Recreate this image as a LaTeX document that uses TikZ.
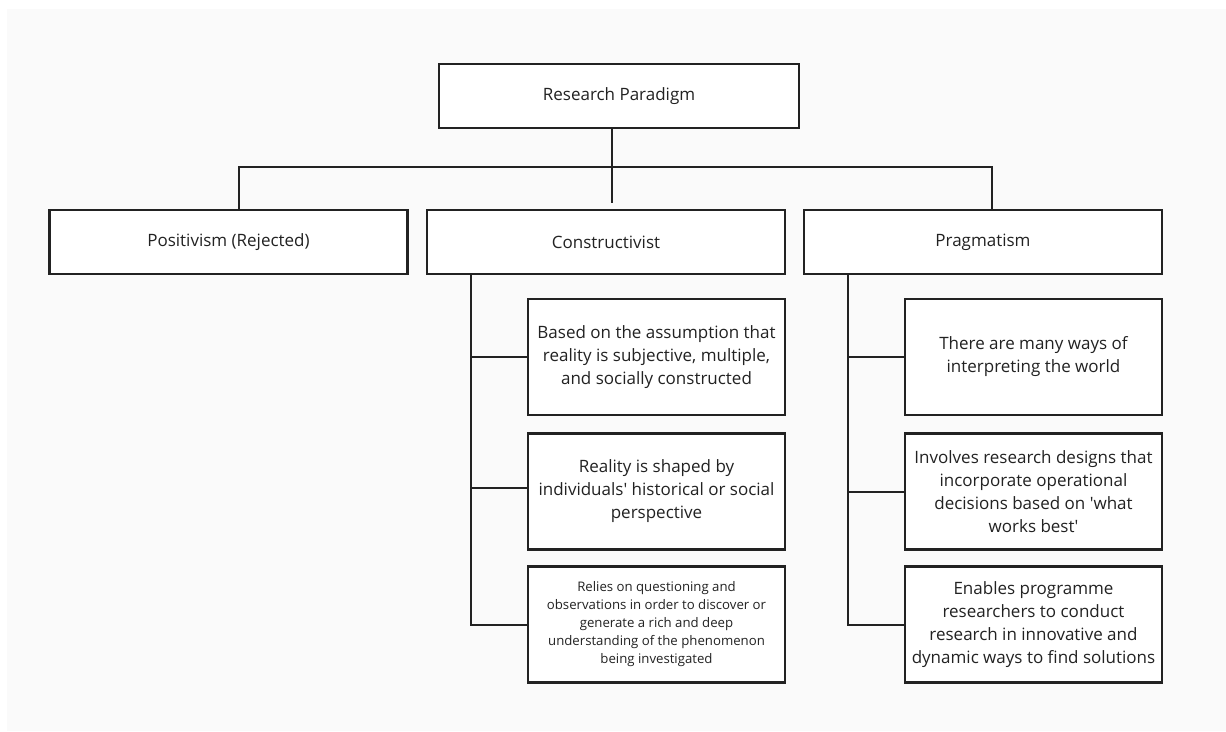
\documentclass[tikz,border=0pt]{standalone}
\usepackage{fontspec}
\setmainfont{Open Sans}
\definecolor{ink}{HTML}{222222}
\definecolor{paper}{HTML}{FAFAFA}
\begin{document}
\begin{tikzpicture}[x=1pt,y=-1pt,
  box/.style={draw=ink, line width=2.8pt, fill=white, inner sep=0pt, align=center,
    text=ink, font=\fontsize{17}{23}\selectfont},
  head/.style={box, minimum height=64pt},
  leaf/.style={box, minimum width=257pt, minimum height=116pt},
  link/.style={draw=ink, line width=2pt}]
% canvas
\useasboundingbox (0,0) rectangle (1226,731);
\fill[white] (0,0) rectangle (1226,731);
\fill[paper] (7,9) rectangle (1226,731);

% top of the tree
\node[head, minimum width=360pt] (root) at (619,96) {Research Paradigm};

% paradigms
\node[head, minimum width=358pt] (pos)  at (228.5,242) {Positivism (Rejected)};
\node[head, minimum width=358pt] (cons) at (606,242)   {Constructivist};
\node[head, minimum width=358pt] (prag) at (983,242)   {Pragmatism};

% constructivist points
\node[leaf] (c1) at (656.5,357)   {Based on the assumption that\\reality is subjective, multiple,\\and socially constructed};
\node[leaf] (c2) at (656.5,491.5) {Reality is shaped by\\individuals\textquotesingle{} historical or social\\perspective};
\node[leaf, font=\fontsize{13.2}{18}\selectfont] (c3) at (656.5,624.5)
  {Relies on questioning and\\observations in order to discover or\\generate a rich and deep\\understanding of the phenomenon\\being investigated};

% pragmatism points
\node[leaf] (p1) at (1033.5,357)   {There are many ways of\\interpreting the world};
\node[leaf] (p2) at (1033.5,491.5) {Involves research designs that\\incorporate operational\\decisions based on \textquotesingle what\\works best\textquotesingle};
\node[leaf] (p3) at (1033.5,624.5) {Enables programme\\researchers to conduct\\research in innovative and\\dynamic ways to find solutions};

% trunk positions
\coordinate (ctrunk) at (471,0);
\coordinate (ptrunk) at (848,0);

% connectors from the top box
\draw[link] ([xshift=-7pt]root.south) -- ++(0,74);
\draw[link] ([xshift=10.5pt]pos.north) -- ++(0,-42) -| ([xshift=9pt]prag.north);

% constructivist branches
\draw[link] (cons.south -| ctrunk) |- (c3.west);
\draw[link] (ctrunk |- c1.west) -- (c1.west);
\draw[link] ([yshift=4pt]c2.west -| ctrunk) -- ([yshift=4pt]c2.west);

% pragmatism branches
\draw[link] (prag.south -| ptrunk) |- (p3.west);
\draw[link] (ptrunk |- p1.west) -- (p1.west);
\draw[link] (ptrunk |- p2.west) -- (p2.west);
\end{tikzpicture}
\end{document}
